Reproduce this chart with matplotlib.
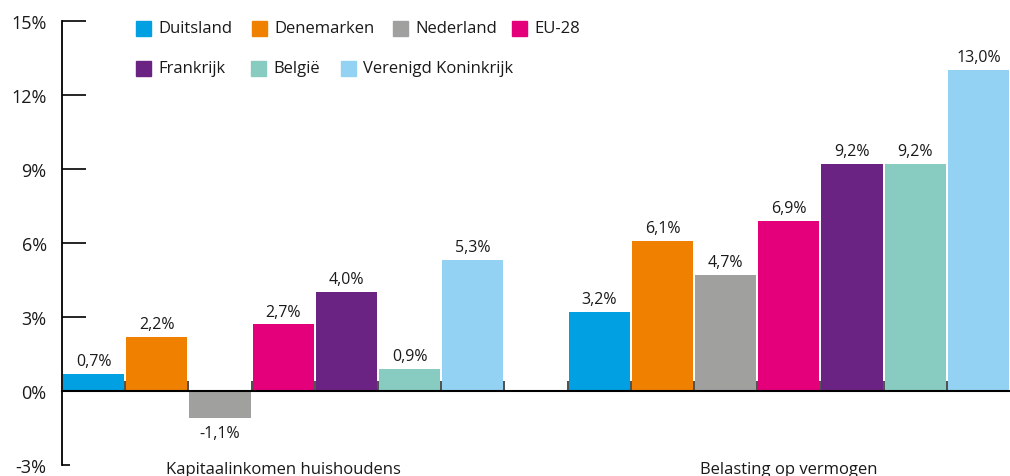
import matplotlib
matplotlib.use('Agg')
import matplotlib.pyplot as plt
from matplotlib.patches import Rectangle
import numpy as np

plt.rcParams['font.family'] = ['Open Sans', 'DejaVu Sans']

# ── Data ─────────────────────────────────────────────────────────────────────
countries = ["Duitsland", "Denemarken", "Nederland", "EU-28",
             "Frankrijk", "België", "Verenigd Koninkrijk"]
colors    = ["#00A0E2", "#F08000", "#A0A09F", "#E5007B",
             "#6A2382", "#88CBC0", "#93D2F3"]
groups    = ["Kapitaalinkomen huishoudens", "Belasting op vermogen"]
kapitaal  = [0.7, 2.2, -1.1, 2.7, 4.0, 0.9, 5.3]
vermogen  = [3.2, 6.1, 4.7, 6.9, 9.2, 9.2, 13.0]
yticks    = [-3, 0, 3, 6, 9, 12, 15]

W, H = 1010, 477
fig = plt.figure(figsize=(W / 100, H / 100), dpi=100)
ax = fig.add_axes([62 / W, 1 - 466 / H, 1 - 62 / W, (466 - 22) / H])

txt = "#1a1a1a"
n = len(countries)
for g, vals in enumerate([kapitaal, vermogen]):
    x = np.arange(n) + g * (n + 1)
    ax.bar(x, vals, width=0.97, color=colors, zorder=2)
    for xi, v in zip(x, vals):
        lab = f"{v:.1f}".replace(".", ",") + "%"
        off = 3.5 if v >= 0 else -5
        ax.annotate(lab, (xi, v), xytext=(0, off), textcoords="offset points",
                    ha="center", va="bottom" if v >= 0 else "top",
                    fontsize=11.5, color=txt)
    ax.text(x.mean(), 0.008, groups[g], transform=ax.get_xaxis_transform(),
            ha="center", va="top", fontsize=12, color=txt, clip_on=False)

ax.set_xlim(-0.5, 2 * n + 0.5)
ax.set_ylim(-3, 15)

# axes styling
for s in ["top", "right"]:
    ax.spines[s].set_visible(False)
ax.spines["bottom"].set_position(("data", 0))
ax.spines["bottom"].set_linewidth(1.5)
ax.spines["bottom"].set_zorder(3)
ax.spines["left"].set_linewidth(1.3)

ax.set_yticks(yticks)
ax.set_yticklabels([f"{t}%" for t in yticks])
ax.tick_params(axis="y", direction="in", length=17, width=1.2, pad=11,
               labelsize=13, labelcolor=txt)
ax.yaxis.get_major_ticks()[0].tick1line.set_markersize(6)

ax.set_xticks(np.arange(1, 2 * n + 1) - 0.5)
ax.set_xticklabels([])
ax.tick_params(axis="x", direction="in", length=7, width=1.3, color="#404040")

# ── Legend (flow layout, two rows) ───────────────────────────────────────────
rows = [(29, [136, 252, 393, 512], [0, 1, 2, 3]),
        (69, [136, 251, 341], [4, 5, 6])]
for yc, xs, idx in rows:
    for xp, i in zip(xs, idx):
        fig.patches.append(Rectangle((xp / W, 1 - (yc + 7.5) / H), 15 / W, 15 / H,
                                     transform=fig.transFigure,
                                     color=colors[i], figure=fig))
        fig.text((xp + 22) / W, 1 - yc / H, countries[i], ha="left",
                 va="center", fontsize=12, color=txt)

fig.savefig("out.png", dpi=100)
